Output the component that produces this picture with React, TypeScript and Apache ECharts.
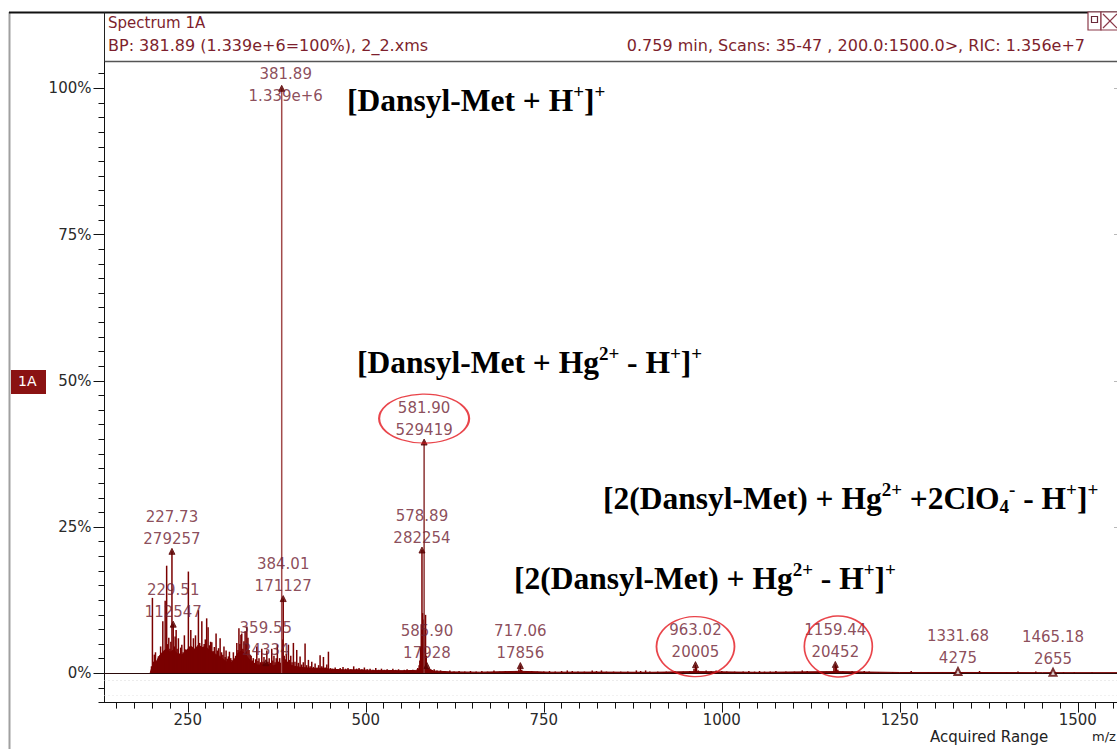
import React, { useEffect, useRef } from "react";
import * as echarts from "echarts";

// ---- Spectrum 1A data -------------------------------------------------------

// Annotated peaks: m/z and absolute intensity (counts)
const labeledMz = [227.73, 229.51, 359.55, 381.89, 384.01, 578.89, 581.9, 585.9, 717.06, 963.02, 1159.44, 1331.68, 1465.18];
const labeledIntensity = [279257, 112547, 24334, 1339000, 171127, 282254, 529419, 17928, 17856, 20005, 20452, 4275, 2655];
const basePeakIntensity = 1339000;

// Peaks that get a red ring around their label
const circledMz = [581.9, 963.02, 1159.44];

// Unlabeled sticks: [m/z, relative abundance %]
const sticks: [number, number][] = [
  [199.0, 1.2], [200.3, 12.9], [201.5, 2.0], [203.0, 3.2], [204.6, 3.6], [206.0, 1.8], [208.7, 2.9], [210.3, 1.9],
  [211.8, 4.6], [213.2, 2.4], [214.9, 8.9], [216.4, 3.5], [218.2, 12.4], [220.3, 18.4], [221.8, 5.0], [223.3, 6.1],
  [224.8, 4.2], [226.2, 5.4], [231.0, 4.6], [232.2, 6.3], [233.6, 7.4], [235.0, 4.2], [236.8, 6.0], [238.4, 3.4],
  [240.0, 4.4], [241.6, 4.9], [243.4, 3.6], [245.2, 6.5], [247.0, 4.1], [248.8, 3.8], [250.8, 17.4], [252.3, 4.6],
  [254.2, 7.4], [256.0, 4.0], [257.9, 6.0], [259.4, 3.8], [260.8, 6.5], [262.6, 4.4], [264.9, 10.8], [266.6, 5.2],
  [268.3, 4.6], [269.7, 8.9], [271.5, 4.4], [273.0, 5.0], [274.6, 5.8], [276.5, 9.4], [278.5, 7.9], [280.3, 4.8],
  [282.0, 5.4], [283.7, 5.3], [285.5, 3.8], [287.3, 4.5], [289.7, 6.8], [291.5, 3.9], [293.2, 4.3], [295.4, 6.0],
  [297.4, 3.6], [299.2, 3.2], [300.8, 4.6], [302.5, 2.8], [303.8, 3.9], [305.5, 2.5], [307.0, 2.9], [308.5, 3.7],
  [310.3, 2.6], [312.0, 2.3], [314.0, 3.6], [315.6, 2.4], [317.2, 3.0], [318.8, 5.2], [320.5, 4.0], [321.8, 7.7],
  [323.2, 5.0], [324.6, 6.6], [325.8, 6.8], [327.3, 4.2], [328.8, 5.5], [330.5, 7.2], [331.8, 5.0], [332.9, 8.0],
  [334.5, 6.1], [336.0, 4.0], [337.6, 3.2], [339.0, 3.0], [340.6, 2.2], [342.0, 2.6], [343.6, 1.8], [345.2, 2.4],
  [346.9, 4.6], [348.5, 2.1], [350.0, 2.6], [351.8, 1.9], [353.9, 4.2], [355.5, 2.0], [357.0, 2.8], [358.4, 1.6],
  [361.0, 3.9], [362.7, 2.0], [364.3, 2.6], [366.0, 1.8], [367.9, 4.2], [369.4, 2.2], [371.0, 3.0], [372.6, 1.9],
  [374.2, 2.6], [375.8, 4.9], [377.4, 2.0], [379.0, 2.6], [380.4, 1.8], [382.9, 5.8], [385.4, 3.0], [386.9, 2.4],
  [388.3, 3.3], [389.8, 2.0], [391.3, 4.9], [393.0, 2.3], [394.6, 3.0], [396.4, 1.9], [398.3, 5.2], [400.5, 2.0],
  [403.0, 4.0], [405.2, 1.8], [407.7, 2.9], [410.0, 1.5], [412.2, 1.9], [414.7, 5.1], [417.0, 1.4], [419.4, 2.3],
  [421.8, 1.2], [424.1, 2.0], [426.5, 1.1], [428.8, 1.7], [431.5, 1.0], [433.7, 1.4], [435.8, 3.1], [438.2, 1.2],
  [440.5, 2.8], [443.0, 1.0], [445.2, 1.5], [447.5, 3.7], [450.5, 0.9], [453.5, 0.8], [457.0, 1.0], [460.5, 0.7],
  [464.0, 0.9], [468.0, 1.1], [471.5, 0.8], [475.0, 0.9], [479.0, 0.7], [483.0, 1.2], [487.0, 0.8], [490.5, 0.9],
  [494.5, 0.7], [498.0, 1.0], [502.0, 0.7], [506.0, 0.8], [510.0, 0.6], [514.0, 0.9], [518.0, 0.6], [522.0, 0.8],
  [526.0, 0.6], [530.0, 0.7], [534.5, 0.5], [538.0, 0.8], [542.0, 0.6], [546.0, 0.7], [550.0, 0.5], [554.0, 0.6],
  [558.0, 0.7], [562.0, 0.5], [566.0, 0.6], [570.0, 0.5], [573.0, 0.9], [574.9, 1.4], [575.9, 2.2], [576.9, 4.6],
  [577.9, 8.4], [579.9, 10.3], [580.9, 9.2], [582.9, 7.4], [583.9, 10.0], [584.9, 3.0], [588.5, 0.8], [592.0, 0.6],
  [596.0, 0.7], [600.0, 0.5], [605.0, 0.5], [611.0, 0.4], [618.0, 0.5], [624.0, 0.3], [631.0, 0.4], [639.0, 0.3],
  [647.0, 0.4], [655.0, 0.3], [663.0, 0.4], [671.0, 0.3], [680.0, 0.5], [688.0, 0.3], [696.0, 0.4], [704.0, 0.3],
  [711.0, 0.4], [715.0, 0.7], [719.0, 0.6], [725.0, 0.3], [733.0, 0.4], [741.0, 0.3], [750.0, 0.3], [758.0, 0.4],
  [766.0, 0.3], [775.0, 0.4], [783.0, 0.5], [790.0, 0.4], [798.0, 0.3], [807.0, 0.3], [818.0, 0.5], [824.0, 0.4],
  [831.0, 0.5], [838.0, 0.3], [848.0, 0.3], [858.0, 0.3], [868.0, 0.3], [880.0, 0.5], [886.0, 0.4], [893.0, 0.5],
  [899.0, 0.3], [910.0, 0.3], [922.0, 0.3], [934.0, 0.4], [946.0, 0.3], [955.0, 0.4], [961.0, 0.8], [964.5, 1.0],
  [967.0, 0.5], [978.0, 0.5], [985.0, 0.4], [992.0, 0.5], [1000.0, 0.4], [1007.0, 0.3], [1018.0, 0.3], [1030.0, 0.3],
  [1038.0, 0.4], [1046.0, 0.3], [1053.0, 0.4], [1060.0, 0.3], [1068.0, 0.3], [1076.0, 0.4], [1090.0, 0.3], [1102.0, 0.3],
  [1113.0, 0.5], [1120.0, 0.4], [1135.0, 0.3], [1147.0, 0.3], [1157.5, 0.9], [1161.0, 1.2], [1163.0, 0.6], [1170.0, 0.3],
  [1183.0, 0.4], [1192.0, 0.3], [1200.0, 0.4], [1207.0, 0.3], [1220.0, 0.2], [1240.0, 0.2], [1266.0, 0.4], [1290.0, 0.2],
  [1310.0, 0.2], [1345.0, 0.2], [1362.0, 0.4], [1380.0, 0.2], [1400.0, 0.2], [1416.0, 0.3], [1441.0, 0.3], [1480.0, 0.2],
  [1495.0, 0.2], [1520.0, 0.2],
];

// Unresolved background (chemical noise) envelope: [m/z, %]
const envelope: [number, number][] = [
  [197, 0], [200, 1.2], [205, 1.8], [210, 3.0], [215, 3.7], [220, 4.2], [225, 3.6], [230, 4.0], [235, 3.4], [240, 3.1],
  [245, 3.4], [250, 4.2], [255, 4.6], [260, 4.1], [265, 4.9], [270, 4.4], [275, 4.6], [280, 4.0], [285, 3.6], [290, 3.2],
  [295, 2.9], [300, 2.4], [305, 1.9], [310, 1.7], [315, 2.3], [320, 3.4], [325, 3.8], [330, 3.4], [335, 2.6], [340, 1.8],
  [345, 1.5], [350, 1.4], [355, 1.6], [360, 1.4], [365, 1.5], [370, 1.3], [375, 1.5], [380, 1.7], [385, 1.9], [390, 1.6],
  [395, 1.4], [400, 1.2], [410, 1.0], [420, 0.9], [430, 0.8], [440, 0.9], [450, 0.7], [470, 0.6], [490, 0.6], [510, 0.5],
  [530, 0.5], [550, 0.45], [570, 0.5], [576, 0.8], [582, 1.6], [588, 0.8], [595, 0.4], [620, 0.25], [660, 0.2], [717, 0.35],
  [760, 0.2], [820, 0.22], [900, 0.18], [963, 0.3], [1050, 0.18], [1159, 0.3], [1250, 0.15], [1350, 0.15], [1450, 0.12],
  [1600, 0.12],
];

// Axis ticks
const yTickLabels = [0, 25, 50, 75, 100];
const xTickLabels = [250, 500, 750, 1000, 1250, 1500];
const rightTicks = [25, 50, 75, 100];

// ---- helpers ----------------------------------------------------------------

const X_MIN = 133;
const X_MAX = 1600;
const Y_MIN = -5;
const Y_MAX = 104.5;

const pct = (i: number) => (labeledIntensity[i] / basePeakIntensity) * 100;
const fmtIntensity = (v: number) => (v >= 1e6 ? v.toExponential(3) : String(v));

const steps = (from: number, to: number, step: number) => {
  const out: number[] = [];
  for (let v = from; v <= to + 1e-9; v += step) out.push(Math.round(v * 100) / 100);
  return out;
};

const DARK_RED = "#7a0000";
const LABEL_RED = "#6e2030";
const HEAD_RED = "#7d1f2d";
const SANS = "DejaVu Sans";
const SERIF = "Liberation Serif";

const serifRich = {
  b: { fontFamily: SERIF, fontWeight: "bold", fontSize: 31.5, lineHeight: 36, fill: "#000" },
  sup: { fontFamily: SERIF, fontWeight: "bold", fontSize: 19, lineHeight: 23, verticalAlign: "top", fill: "#000" },
  sub: { fontFamily: SERIF, fontWeight: "bold", fontSize: 19, lineHeight: 17, verticalAlign: "bottom", fill: "#000" },
};

const annotation = (left: number, top: number, text: string) => ({
  type: "text",
  left,
  top,
  z: 10,
  style: { text, rich: serifRich, fontFamily: SERIF, fontWeight: "bold", fontSize: 31.5, fill: "#000" },
});

function buildOption() {
  const basePeakIdx = labeledMz.indexOf(381.89);

  const stickData: any[] = sticks.map(([m, v]) => [m, v]);
  labeledMz.forEach((m, i) => {
    const item: any = { value: [m, pct(i)] };
    if (i === basePeakIdx) item.itemStyle = { color: "#a24a4a" };
    if (m === 581.9) item.itemStyle = { color: "#8c3434" };
    stickData.push(item);
  });

  const labelData = labeledMz.map((m, i) => {
    const item: any = { value: [m, pct(i)] };
    if (i === basePeakIdx) item.label = { offset: [4, 22.5] };
    if (m > 1300) {
      item.symbol = "emptyTriangle";
      item.symbolSize = 7;
    }
    return item;
  });

  const ringShape: Record<string, { size: number[]; offset: number[] }> = {
    "581.9": { size: [90, 49], offset: [0, -23.5] },
    "963.02": { size: [78, 60], offset: [0, -18] },
    "1159.44": { size: [68, 61], offset: [3, -18] },
  };
  const ringData = circledMz.map((m) => {
    const i = labeledMz.indexOf(m);
    const s = ringShape[String(m)];
    return { value: [m, pct(i)], symbolSize: s.size, symbolOffset: s.offset };
  });

  const axisText = { color: "#2a2a2a", fontFamily: SANS, fontSize: 15 };
  const tickLine = { color: "#111", width: 1 };

  return {
    animation: false,
    backgroundColor: "#fff",
    grid: { left: 104.5, right: -32, top: 62, bottom: 46.4, containLabel: false, outerBoundsMode: "none" },
    xAxis: [
      {
        type: "value",
        min: X_MIN,
        max: X_MAX,
        position: "bottom",
        axisLine: { show: true, onZero: false, lineStyle: { color: "#111", width: 1 } },
        axisTick: { show: true, customValues: xTickLabels, length: 10, lineStyle: tickLine },
        axisLabel: { show: true, customValues: xTickLabels, margin: 10, formatter: (v: number) => String(v), ...axisText },
        splitLine: { show: false },
      },
      {
        type: "value",
        min: X_MIN,
        max: X_MAX,
        position: "bottom",
        axisLine: { show: false, onZero: false },
        axisTick: { show: true, customValues: steps(150, 1600, 25), length: 6, lineStyle: tickLine },
        axisLabel: { show: false },
        splitLine: { show: false },
      },
    ],
    yAxis: [
      {
        type: "value",
        min: Y_MIN,
        max: Y_MAX,
        position: "left",
        axisLine: { show: true, onZero: false, lineStyle: { color: "#111", width: 1 } },
        axisTick: { show: true, customValues: yTickLabels, length: 11, lineStyle: tickLine },
        axisLabel: { show: true, customValues: yTickLabels, formatter: "{value}%", margin: 13, ...axisText },
        splitLine: { show: false },
      },
      {
        type: "value",
        min: Y_MIN,
        max: Y_MAX,
        position: "left",
        axisLine: { show: false, onZero: false },
        axisTick: { show: true, customValues: steps(-5, 102.5, 2.5), length: 6, lineStyle: tickLine },
        axisLabel: { show: false },
        splitLine: { show: false },
      },
      {
        type: "value",
        min: Y_MIN,
        max: Y_MAX,
        position: "right",
        offset: -35,
        axisLine: { show: false, onZero: false },
        axisTick: { show: true, customValues: rightTicks, length: 4, lineStyle: { color: "#b8b8b8", width: 1 } },
        axisLabel: { show: false },
        splitLine: { show: false },
      },
    ],
    series: [
      {
        type: "line",
        xAxisIndex: 0,
        yAxisIndex: 0,
        data: envelope,
        symbol: "none",
        silent: true,
        lineStyle: { color: DARK_RED, width: 1 },
        areaStyle: { color: DARK_RED, opacity: 1 },
        z: 2,
      },
      {
        type: "bar",
        xAxisIndex: 0,
        yAxisIndex: 0,
        data: stickData,
        barWidth: 1.5,
        silent: true,
        itemStyle: { color: DARK_RED },
        z: 3,
        markLine: {
          silent: true,
          symbol: ["none", "none"],
          label: { show: false },
          lineStyle: { color: "#2a0a0a", width: 1, type: "solid" },
          data: [
            { yAxis: 0 },
            { yAxis: -1.2, lineStyle: { color: "#d9d9d9", width: 1, type: [1, 3] } },
            { yAxis: -3.7, lineStyle: { color: "#e2e2e2", width: 1, type: [1, 3] } },
          ],
        },
      },
      {
        type: "scatter",
        xAxisIndex: 0,
        yAxisIndex: 0,
        data: labelData,
        symbol: "triangle",
        symbolSize: 6,
        silent: true,
        itemStyle: { color: "#5a0000", borderColor: "#5a0000" },
        label: {
          show: true,
          position: "top",
          distance: 0,
          offset: [0, 2],
          formatter: (p: any) => `${labeledMz[p.dataIndex].toFixed(2)}\n${fmtIntensity(labeledIntensity[p.dataIndex])}`,
          color: LABEL_RED,
          fontFamily: SANS,
          fontSize: 15,
          lineHeight: 22,
          align: "center",
        },
        z: 5,
      },
      {
        type: "scatter",
        xAxisIndex: 0,
        yAxisIndex: 0,
        data: ringData,
        symbol: "circle",
        silent: true,
        itemStyle: { color: "rgba(0,0,0,0)", borderColor: "#e3161e", borderWidth: 1.6 },
        z: 6,
      },
    ],
    graphic: [
      // window frame
      { type: "line", shape: { x1: 9.5, y1: 12, x2: 9.5, y2: 749 }, style: { stroke: "#a0a0a0", lineWidth: 2 } },
      { type: "line", shape: { x1: 9, y1: 12.5, x2: 1117, y2: 12.5 }, style: { stroke: "#111", lineWidth: 2 } },
      { type: "line", shape: { x1: 104.5, y1: 12, x2: 104.5, y2: 62 }, style: { stroke: "#222", lineWidth: 1 } },
      { type: "line", shape: { x1: 104.5, y1: 61.5, x2: 1117, y2: 61.5 }, style: { stroke: "#555", lineWidth: 1.5 } },
      // header
      { type: "text", left: 108, top: 15, style: { text: "Spectrum 1A", fill: HEAD_RED, fontFamily: SANS, fontSize: 15 } },
      {
        type: "text",
        left: 108,
        top: 37,
        style: { text: "BP: 381.89 (1.339e+6=100%), 2_2.xms", fill: HEAD_RED, fontFamily: SANS, fontSize: 16 },
      },
      {
        type: "text",
        right: 32,
        top: 37,
        style: {
          text: "0.759 min, Scans: 35-47 , 200.0:1500.0>, RIC: 1.356e+7",
          fill: HEAD_RED,
          fontFamily: SANS,
          fontSize: 16,
        },
      },
      // window buttons
      { type: "rect", shape: { x: 1088, y: 12, width: 13, height: 18 }, style: { fill: "#fff", stroke: "#8b3a4a", lineWidth: 1.2 } },
      { type: "rect", shape: { x: 1091.5, y: 16.5, width: 6, height: 6 }, style: { fill: "none", stroke: "#6a2a3a", lineWidth: 1.2 } },
      { type: "rect", shape: { x: 1101, y: 12, width: 20, height: 18 }, style: { fill: "#fff", stroke: "#8b3a4a", lineWidth: 1.2 } },
      { type: "line", shape: { x1: 1103, y1: 14, x2: 1117, y2: 28 }, style: { stroke: "#8b3a4a", lineWidth: 1.2 } },
      { type: "line", shape: { x1: 1103, y1: 28, x2: 1117, y2: 14 }, style: { stroke: "#8b3a4a", lineWidth: 1.2 } },
      // trace tag
      { type: "rect", shape: { x: 11, y: 370, width: 35, height: 24 }, style: { fill: "#8a1212" } },
      { type: "text", left: 18, top: 374, style: { text: "1A", fill: "#fff", fontFamily: SANS, fontSize: 14 } },
      // x-axis captions
      { type: "text", left: 930, top: 729, style: { text: "Acquired Range", fill: "#222", fontFamily: SANS, fontSize: 15 } },
      { type: "text", left: 1092, top: 730, style: { text: "m/z", fill: "#222", fontFamily: SANS, fontSize: 13 } },
      // ion assignments
      annotation(347, 82, "{b|[Dansyl-Met + H}{sup|+}{b|]}{sup|+}"),
      annotation(357, 344, "{b|[Dansyl-Met + Hg}{sup|2+}{b| - H}{sup|+}{b|]}{sup|+}"),
      annotation(603, 480, "{b|[2(Dansyl-Met) + Hg}{sup|2+}{b| +2ClO}{sub|4}{sup|-}{b| - H}{sup|+}{b|]}{sup|+}"),
      annotation(514, 560, "{b|[2(Dansyl-Met) + Hg}{sup|2+}{b| - H}{sup|+}{b|]}{sup|+}"),
    ],
  };
}

export default function App() {
  const ref = useRef<HTMLDivElement>(null);

  useEffect(() => {
    if (!ref.current) return;
    const chart = echarts.init(ref.current, null, { renderer: "svg" });
    chart.setOption(buildOption() as any);
    return () => chart.dispose();
  }, []);

  return (
    <div
      ref={ref}
      style={{ position: "fixed", left: 0, top: 0, width: 1117, height: 749, background: "#fff" }}
    />
  );
}
